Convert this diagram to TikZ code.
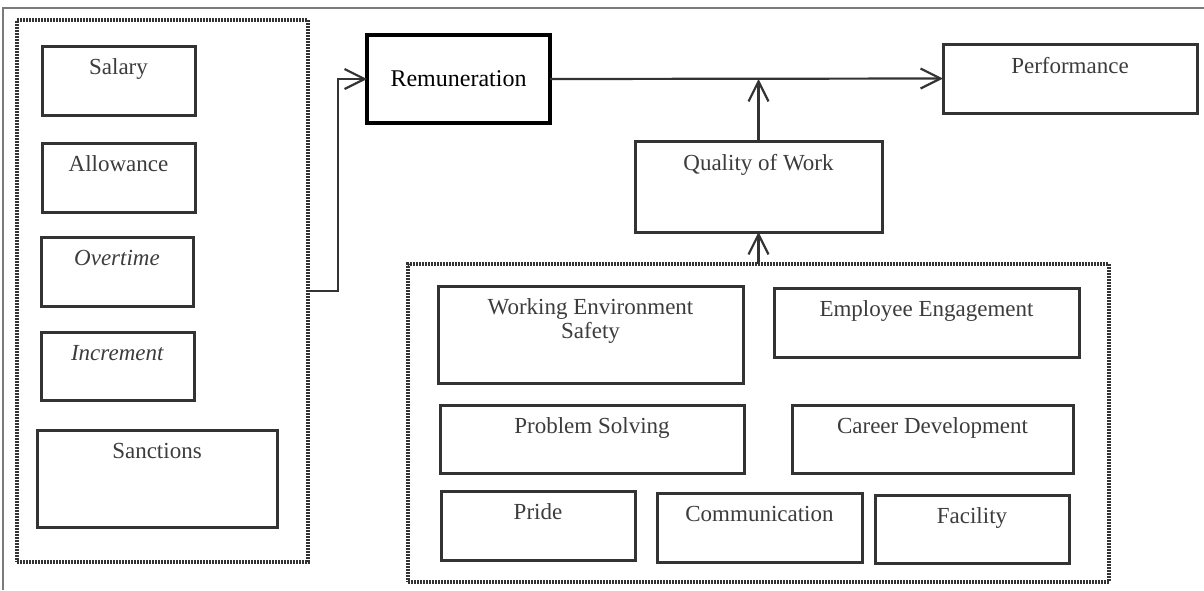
\documentclass[tikz,border=0pt]{standalone}
\usepackage{fontspec}
\setmainfont{Liberation Serif}
\usetikzlibrary{arrows.meta}

\definecolor{boxline}{HTML}{333333}
\definecolor{boxtext}{HTML}{3C3C3C}
\definecolor{framegray}{HTML}{7A7A7A}

\begin{document}
\begin{tikzpicture}[x=0.5pt,y=-0.5pt,inner sep=0pt,outer sep=0pt,
>={Straight Barb[length=10pt,width=10pt]},
factor/.style 2 args={draw=boxline,line width=1.5pt,rectangle,minimum width=#1*0.5pt,minimum height=#2*0.5pt},
caption/.style={anchor=north,yshift=-6.5pt,align=center,text=boxtext,font=\fontsize{11.5}{10.5}\selectfont},
group/.style 2 args={draw=boxline,line width=1.6pt,dash pattern=on 0.8pt off 0.7pt,rectangle,minimum width=#1*0.5pt,minimum height=#2*0.5pt},
conn/.style={draw=boxline,line width=1.1pt}]

\useasboundingbox (0,0) rectangle (1204,590);
\draw[framegray,line width=1pt] (3,590) -- (3,8) -- (1204,8);

% remuneration items
\draw (162.5,291) node[group={291}{542}] (pay) {};
\draw (118.5,80.5) node[factor={153}{69},label={[caption]north:Salary}] (salary) {};
\draw (118.5,177.5) node[factor={153}{69},label={[caption]north:Allowance}] (allow) {};
\draw (117,271.5) node[factor={152}{69},label={[caption]north:\textit{Overtime}}] (overtime) {};
\draw (117.5,366) node[factor={153}{68},label={[caption]north:\textit{Increment}}] (incr) {};
\draw (157,478.5) node[factor={240}{97},label={[caption]north:Sanctions}] (sanct) {};

\draw (458.5,79) node[draw,line width=1.9pt,rectangle,minimum width=91.5pt,minimum height=44pt,font=\fontsize{12}{14}\selectfont] (remun) {Remuneration};
\draw (1070,78.5) node[factor={254}{69},label={[caption]north:Performance}] (perf) {};
\draw (758.5,186.5) node[factor={247}{91},label={[caption]north:Quality of Work}] (qow) {};

% quality of work items
\draw (758.5,423) node[group={701}{318}] (work) {};
\draw (590.5,334.5) node[factor={305}{97},label={[caption]north:Working Environment\\Safety}] (env) {};
\draw (926.5,322.5) node[factor={305}{69},label={[caption]north:Employee Engagement}] (engage) {};
\draw (592,439) node[factor={304}{68},label={[caption]north:Problem Solving}] (solve) {};
\draw (932.5,439) node[factor={281}{68},label={[caption]north:Career Development}] (career) {};
\draw (538,525.5) node[factor={194}{69},label={[caption]north:Pride}] (pride) {};
\draw (759.5,527.5) node[factor={205}{69},label={[caption]north:Communication}] (comm) {};
\draw (972,529) node[factor={194}{68},label={[caption]north:Facility}] (facil) {};

\draw[conn,->] (pay.east) -- ++(30,0) |- (remun.west);
\draw[conn,->] (remun.east) -- (perf.west);
\draw[conn,->] (qow.north) -- (qow.north |- remun.east);
\draw[conn,->] (work.north) -- (qow.south);

\end{tikzpicture}
\end{document}
